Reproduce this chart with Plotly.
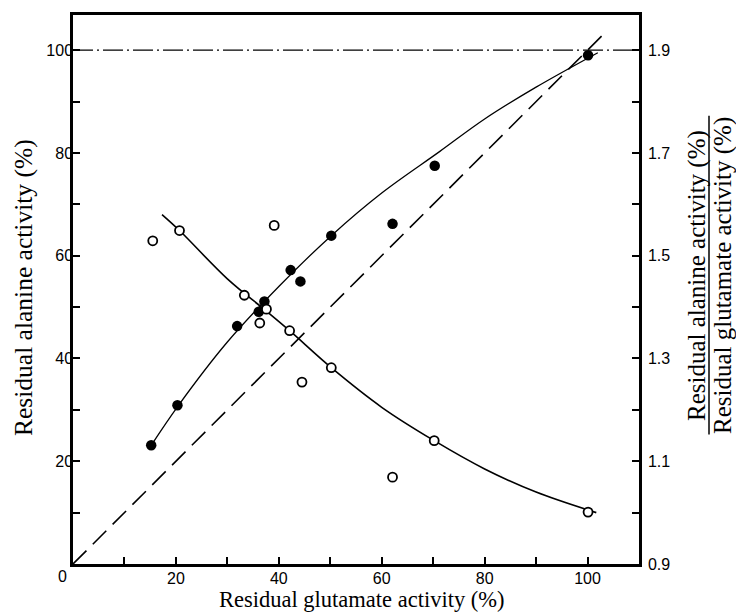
import plotly.graph_objects as go

# ---- data ----
# filled circles: residual alanine activity (%) vs residual glutamate activity (%)
glu_filled = [15.2, 20.3, 31.9, 36.1, 37.2, 42.3, 44.2, 50.2, 62.1, 70.3, 100.1]
ala_filled = [23.1, 30.9, 46.3, 49.1, 51.1, 57.2, 55.0, 63.9, 66.2, 77.5, 99.0]

# open circles: ratio alanine/glutamate (right axis)
glu_open = [15.5, 20.7, 33.3, 36.3, 37.6, 39.1, 42.1, 44.5, 50.2, 62.1, 70.2, 100.1]
ratio_open = [1.529, 1.549, 1.423, 1.369, 1.396, 1.559, 1.354, 1.254, 1.282, 1.069, 1.140, 1.001]

# hand-drawn fitted curves
fit_ala_x = [15.2, 20.3, 30, 40, 50.2, 60, 71.3, 80, 90, 102]
fit_ala_y = [23.1, 30.6, 43.2, 54.0, 63.9, 72.2, 80.3, 86.6, 92.8, 99.5]
fit_ratio_x = [17.3, 20.7, 30, 37.6, 42.1, 50.2, 60, 70.2, 80, 90, 101.7]
fit_ratio_y = [1.580, 1.549, 1.455, 1.392, 1.354, 1.282, 1.205, 1.140, 1.085, 1.040, 1.000]

# identity line (alanine = glutamate) and 100 % reference level
identity_x = [0, 103.8]
identity_y = [0, 103.8]
ref_x = [0, 110]
ref_y = [100, 100]

x_ticks = list(range(0, 101, 10))
x_ticktext = ["" if (v == 0 or v % 20) else str(v) for v in x_ticks]
y_ticks = list(range(0, 101, 10))
y_ticktext = ["" if (v == 0 or v % 20) else str(v) for v in y_ticks]
r_ticks = [round(0.9 + 0.1 * i, 1) for i in range(11)]
r_ticktext = [f"{v:.1f}" if i % 2 == 0 else "" for i, v in enumerate(r_ticks)]

x_title = "Residual glutamate activity (%)"
y_title = "Residual alanine activity (%)"
r_title_num = "Residual alanine activity (%)"
r_title_den = "Residual glutamate activity (%)"

SERIF = "Liberation Serif, Times New Roman, serif"
SANS = "Liberation Sans, Arial, sans-serif"

fig = go.Figure()

fig.add_trace(go.Scatter(x=ref_x, y=ref_y, mode="lines",
                         line=dict(color="black", width=1.3, dash="20px,4px,2px,4px"),
                         hoverinfo="skip", showlegend=False))
fig.add_trace(go.Scatter(x=identity_x, y=identity_y, mode="lines",
                         line=dict(color="black", width=1.6, dash="19px,9px"),
                         hoverinfo="skip", showlegend=False))
fig.add_trace(go.Scatter(x=fit_ala_x, y=fit_ala_y, mode="lines",
                         line=dict(color="black", width=1.3, shape="spline", smoothing=1.0),
                         hoverinfo="skip", showlegend=False))
fig.add_trace(go.Scatter(x=fit_ratio_x, y=fit_ratio_y, mode="lines", yaxis="y2",
                         line=dict(color="black", width=1.6, shape="spline", smoothing=1.0),
                         hoverinfo="skip", showlegend=False))
fig.add_trace(go.Scatter(x=glu_filled, y=ala_filled, mode="markers",
                         marker=dict(symbol="circle", size=10.5, color="black",
                                     line=dict(color="black", width=0)),
                         showlegend=False))
fig.add_trace(go.Scatter(x=glu_open, y=ratio_open, mode="markers", yaxis="y2",
                         marker=dict(symbol="circle", size=9, color="white",
                                     line=dict(color="black", width=1.8)),
                         showlegend=False))

W, H = 736, 612
PL, PR, PT, PB = 73, 639, 13, 564          # plot box in page pixels
ml, mt = PL, PT
mr = W - PR
mb = H - PB
pw, ph = PR - PL, PB - PT
ymax = 100 * ph / 515.7

def px(xpix):
    return (xpix - PL) / pw

def py(ypix):
    return (PB - ypix) / ph

fig.update_layout(
    width=W, height=H,
    margin=dict(l=ml, r=mr, t=mt, b=mb, pad=0),
    paper_bgcolor="white", plot_bgcolor="white",
    font=dict(family=SANS, size=16, color="black"),
    xaxis=dict(range=[0, 110], tickvals=x_ticks, ticktext=x_ticktext,
               ticks="inside", ticklen=7, tickwidth=1.5, tickcolor="black",
               showline=True, linewidth=2.5, linecolor="black", mirror=True,
               showgrid=False, zeroline=False, ticklabelstandoff=-2,
               tickfont=dict(family=SANS, size=16)),
    yaxis=dict(range=[0, ymax], tickvals=y_ticks, ticktext=y_ticktext,
               ticks="inside", ticklen=7, tickwidth=1.5, tickcolor="black",
               showline=True, linewidth=2.5, linecolor="black",
               showgrid=False, zeroline=False, ticklabelstandoff=-6,
               tickfont=dict(family=SANS, size=16)),
    yaxis2=dict(range=[0.9, 0.9 + 1.0 * ymax / 100], overlaying="y", side="right",
                tickvals=r_ticks, ticktext=r_ticktext,
                ticks="inside", ticklen=7, tickwidth=1.5, tickcolor="black",
                showline=True, linewidth=2.5, linecolor="black",
                showgrid=False, zeroline=False, ticklabelstandoff=3,
                tickfont=dict(family=SANS, size=16)),
)

annotations = [
    dict(text="0", x=px(62), y=py(577), xref="paper", yref="paper",
         showarrow=False, font=dict(family=SANS, size=16), xanchor="center", yanchor="middle"),
    dict(text=x_title, x=px(362), y=py(600), xref="paper", yref="paper",
         showarrow=False, font=dict(family=SERIF, size=22.5), xanchor="center", yanchor="middle"),
    dict(text=y_title, x=px(23), y=py(287), xref="paper", yref="paper", textangle=-90,
         showarrow=False, font=dict(family=SERIF, size=25.5), xanchor="center", yanchor="middle"),
    dict(text=r_title_num, x=px(697), y=py(275), xref="paper", yref="paper", textangle=-90,
         showarrow=False, font=dict(family=SERIF, size=25), xanchor="center", yanchor="middle"),
    dict(text=r_title_den, x=px(723), y=py(275), xref="paper", yref="paper", textangle=-90,
         showarrow=False, font=dict(family=SERIF, size=25), xanchor="center", yanchor="middle"),
]
fig.update_layout(annotations=annotations)

fig.add_shape(type="line", xref="paper", yref="paper",
              x0=px(709), x1=px(709), y0=py(114), y1=py(434),
              line=dict(color="black", width=1.5))

fig.write_html("out.html", config={"displayModeBar": False},
               post_script="document.body.style.margin='0';")
